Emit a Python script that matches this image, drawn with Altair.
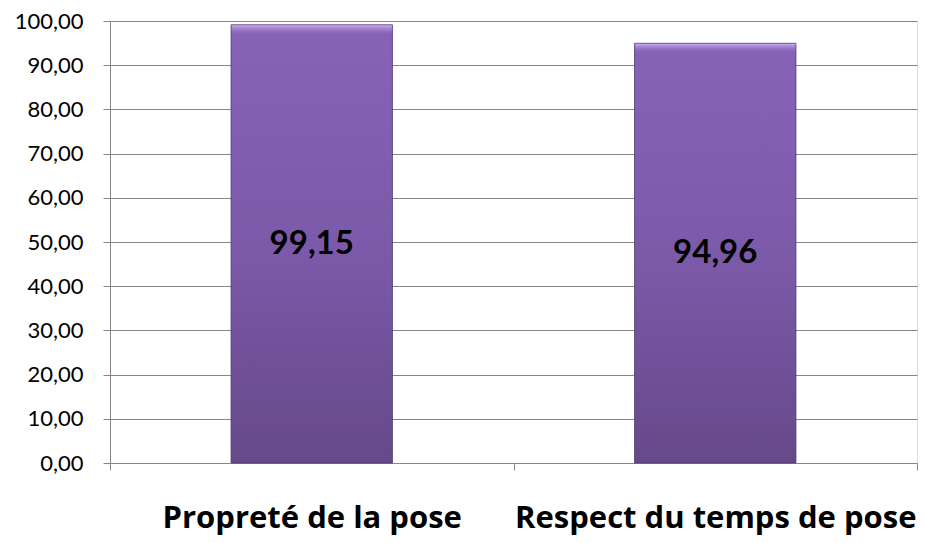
import altair as alt
import pandas as pd

categories = ["Propreté de la pose", "Respect du temps de pose"]
values = [99.15, 94.96]
y_ticks = [0, 10, 20, 30, 40, 50, 60, 70, 80, 90, 100]

df = pd.DataFrame({"cat": categories, "val": values, "idx": list(range(len(categories)))})

FONT = "Lato"
n = len(categories)
x_tick_values = sorted(set([i for i in range(n + 1)] + [i + 0.5 for i in range(n)]))
label_expr = " : ".join(
    [f"datum.value == {i + 0.5} ? '{c}'" for i, c in enumerate(categories)]
) + " : ''"

x_axis = alt.Axis(
    values=x_tick_values,
    labelExpr=label_expr,
    labelAngle=0,
    labelFont="Open Sans",
    labelFontSize=31,
    labelFontWeight="bold",
    labelColor="#000000",
    labelPadding=33,
    labelOverlap=False,
    labelFlush=False,
    labelBound=False,
    labelLimit=0,
    tickSize=7,
    tickColor="#868686",
    tickOpacity=alt.ConditionalAxisNumber(
        condition={"test": "datum.value % 1 === 0", "value": 1}, value=0
    ),
    domainColor="#868686",
    grid=False,
    title=None,
)

base = alt.Chart(df).transform_calculate(
    x0="datum.idx + 0.3",
    x1="datum.idx + 0.7",
    xm="datum.idx + 0.5",
    y0="0",
    mid="datum.val / 2",
    txt="replace(format(datum.val, '.2f'), '.', ',')",
)

x_scale = alt.Scale(domain=[0, n], nice=False, zero=False)
y_scale = alt.Scale(domain=[0, 100], nice=False)

bars = base.mark_bar(
    fill=alt.Gradient(
        gradient="linear",
        x1=0, x2=0, y1=0, y2=1,
        stops=[
            alt.GradientStop(color="#d2b4f2", offset=0),
            alt.GradientStop(color="#a585d2", offset=0.008),
            alt.GradientStop(color="#9371c2", offset=0.014),
            alt.GradientStop(color="#8663b5", offset=0.02),
            alt.GradientStop(color="#7c5aaa", offset=0.5),
            alt.GradientStop(color="#664989", offset=1),
        ],
    ),
    stroke="#4f3870",
    strokeWidth=0.8,
).encode(
    x=alt.X("x0:Q", scale=x_scale, axis=x_axis),
    x2="x1:Q",
    y=alt.Y(
        "val:Q",
        title=None,
        scale=y_scale,
        axis=alt.Axis(
            values=y_ticks,
            format=".2f",
            labelExpr="replace(datum.label, '.', ',')",
            labelFont=FONT,
            labelFontSize=22,
            labelColor="#000000",
            labelPadding=20,
            tickSize=7,
            tickColor="#868686",
            domainColor="#868686",
            gridColor="#868686",
            gridWidth=1,
        ),
    ),
    y2="y0:Q",
)

labels = base.mark_text(
    font=FONT, fontSize=33, fontWeight="bold", color="#000000", baseline="middle"
).encode(
    x=alt.X("xm:Q", scale=x_scale),
    y=alt.Y("mid:Q", scale=y_scale),
    text="txt:N",
)

chart = (
    alt.layer(bars, labels)
    .properties(
        width=807,
        height=442,
        autosize=alt.AutoSizeParams(type="none"),
        padding={"left": 102, "top": 13, "right": 2, "bottom": 72},
    )
    .configure_view(stroke=None)
    .configure(background="white")
)

chart.save("out.html", embed_options={"renderer": "svg", "actions": False})
